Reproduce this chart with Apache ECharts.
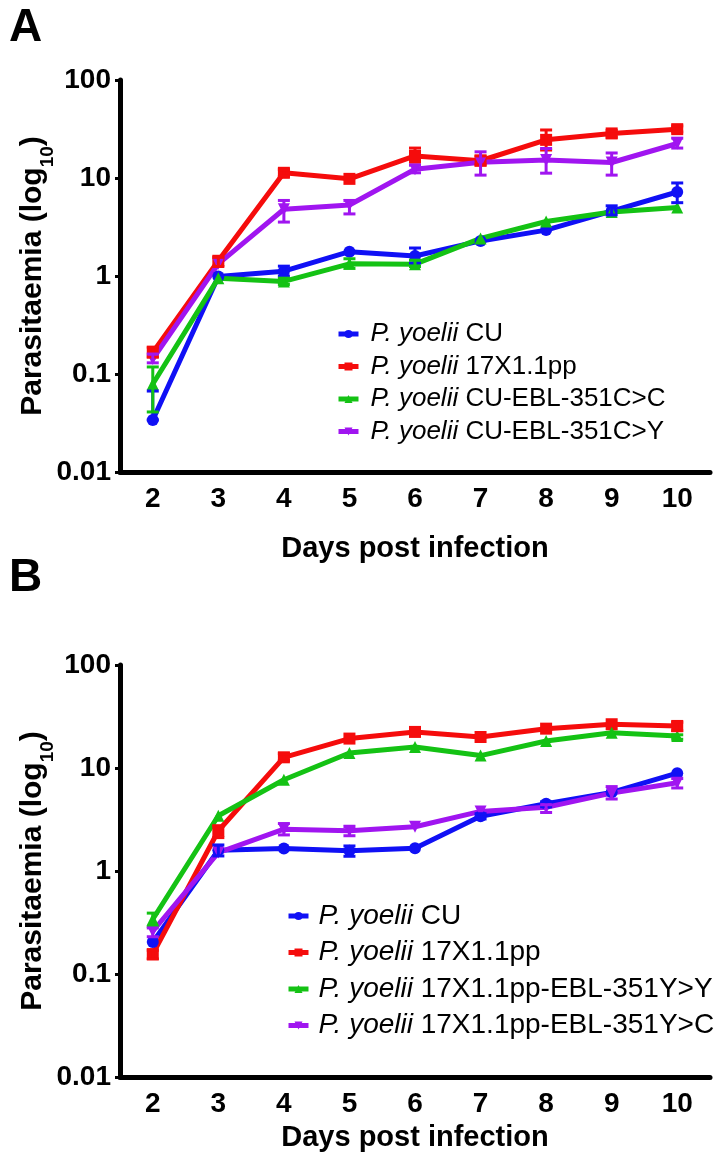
<!DOCTYPE html>
<html>
<head>
<meta charset="utf-8">
<script src="https://cdn.jsdelivr.net/npm/echarts@6/dist/echarts.min.js"></script>
<style>
html,body{margin:0;padding:0;background:#fff;}
#chart{width:720px;height:1165px;}
</style>
</head>
<body>
<div id="chart"></div>
<script>
// ---- data ----
const days = ['2', '3', '4', '5', '6', '7', '8', '9', '10'];
const yTicks = [0.01, 0.1, 1, 10, 100];

const namesA = ['CU', '17X1.1pp', 'CU-EBL-351C>C', 'CU-EBL-351C>Y'];
const namesB = ['CU', '17X1.1pp', '17X1.1pp-EBL-351Y>Y', '17X1.1pp-EBL-351Y>C'];

const aCU  = [0.034, 0.99, 1.12, 1.77, 1.6, 2.28, 2.94, 4.6, 7.2];
const a17X = [0.166, 1.43, 11.3, 9.8, 16.8, 15.0, 24.5, 28.5, 31.5];
const aCC  = [0.079, 0.95, 0.88, 1.33, 1.32, 2.42, 3.6, 4.5, 5.0];
const aCY  = [0.142, 1.33, 4.8, 5.3, 12.3, 14.5, 15.3, 14.4, 22.5];

const bCU  = [0.204, 1.59, 1.65, 1.57, 1.66, 3.4, 4.5, 5.8, 8.9];
const b17X = [0.156, 2.46, 12.7, 19.3, 22.4, 20.0, 24.1, 26.6, 25.6];
const bYY  = [0.34, 3.44, 7.7, 14.0, 16.0, 13.2, 18.3, 22.0, 20.5];
const bYC  = [0.26, 1.51, 2.55, 2.46, 2.69, 3.79, 4.15, 5.7, 7.2];

// error bars: [day, low, high]
const aCUerr  = [[2, 0.034, 0.067], [4, 1.0, 1.26], [6, 1.36, 1.93], [9, 4.2, 5.2], [10, 5.6, 8.9]];
const a17Xerr = [[2, 0.149, 0.188], [3, 1.25, 1.55], [4, 10.4, 12.2], [6, 14.6, 20.2], [7, 13.6, 16.8], [8, 19.3, 30.9], [9, 26, 30.5], [10, 29.5, 34]];
const aCCerr  = [[2, 0.041, 0.118], [4, 0.82, 0.95], [5, 1.2, 1.5], [6, 1.25, 1.45]];
const aCYerr  = [[2, 0.13, 0.16], [4, 3.55, 5.9], [5, 4.3, 5.9], [6, 11.3, 13.5], [7, 10.7, 18.5], [8, 11.2, 20], [9, 10.7, 18], [10, 20.2, 25.5]];

const bCUerr  = [[3, 1.40, 1.79], [5, 1.39, 1.75], [7, 3.2, 3.6], [8, 4.2, 4.7]];
const b17Xerr = [[2, 0.14, 0.17], [3, 2.11, 2.75], [4, 11.8, 13.8], [10, 23, 27.8]];
const bYYerr  = [[2, 0.29, 0.39], [10, 19, 21]];
const bYCerr  = [[2, 0.23, 0.28], [4, 2.24, 2.89], [5, 2.2, 2.7], [8, 3.7, 4.4], [9, 5.0, 6.6], [10, 6.4, 7.9]];

// ---- styles ----
const colors = ['#1010f5', '#f50c0c', '#14c214', '#a015f0'];
const symbols = ['circle', 'rect', 'triangle', 'triangle'];
const rotates = [0, 0, 0, 180];
const FONT = 'Liberation Sans, Arial, sans-serif';

const chart = echarts.init(document.getElementById('chart'), null, {renderer: 'canvas'});

function lineSeries(name, values, i, g) {
  return {
    type: 'line', name: name, xAxisIndex: g, yAxisIndex: g,
    data: values,
    symbol: symbols[i], symbolRotate: rotates[i], symbolSize: 12,
    showSymbol: true,
    lineStyle: {width: 5, color: colors[i]},
    itemStyle: {color: colors[i]},
    z: 3, animation: false
  };
}
function errSeries(errs, i, g) {
  return {
    type: 'custom', xAxisIndex: g, yAxisIndex: g, z: 4, animation: false, silent: true,
    data: errs.map(e => [days.indexOf(String(e[0])), e[1], e[2]]),
    encode: {x: 0, y: [1, 2]},
    renderItem: function (params, api) {
      const lo = api.coord([api.value(0), api.value(1)]);
      const hi = api.coord([api.value(0), api.value(2)]);
      const w = 6;
      const st = {stroke: colors[i], lineWidth: 3};
      return {type: 'group', children: [
        {type: 'line', shape: {x1: lo[0], y1: lo[1], x2: hi[0], y2: hi[1]}, style: st},
        {type: 'line', shape: {x1: hi[0] - w, y1: hi[1], x2: hi[0] + w, y2: hi[1]}, style: st},
        {type: 'line', shape: {x1: lo[0] - w, y1: lo[1], x2: lo[0] + w, y2: lo[1]}, style: st}
      ]};
    }
  };
}

function xAxisCfg(g) {
  return {
    type: 'category', gridIndex: g, data: days, boundaryGap: true,
    axisLine: {lineStyle: {color: '#000', width: 5}},
    axisTick: {alignWithLabel: true, length: 5, lineStyle: {color: '#000', width: 3}},
    axisLabel: {color: '#000', fontFamily: FONT, fontWeight: 'bold', fontSize: 28, margin: 13},
    splitLine: {show: false},
    name: 'Days post infection', nameLocation: 'middle', nameGap: g === 0 ? 62 : 46,
    nameTextStyle: {color: '#000', fontFamily: FONT, fontWeight: 'bold', fontSize: 29}
  };
}
function yAxisCfg(g) {
  return {
    type: 'log', logBase: 10, gridIndex: g, min: yTicks[0], max: yTicks[yTicks.length - 1],
    axisLine: {show: true, lineStyle: {color: '#000', width: 5}},
    axisTick: {show: true, length: 5, lineStyle: {color: '#000', width: 3}},
    axisLabel: {color: '#000', fontFamily: FONT, fontWeight: 'bold', fontSize: 28, margin: 9,
      formatter: v => String(+v.toPrecision(3))},
    splitLine: {show: false},
    name: '{a|Parasitaemia (log}{s|10}{a|)}', nameLocation: 'middle', nameRotate: 90, nameGap: 72,
    nameMoveOverlap: false,
    nameTextStyle: {color: '#000', fontFamily: FONT, fontWeight: 'bold', fontSize: 30,
      rich: {
        a: {fontFamily: FONT, fontWeight: 'bold', fontSize: 30, color: '#000'},
        s: {fontFamily: FONT, fontWeight: 'bold', fontSize: 19, color: '#000', verticalAlign: 'bottom', padding: [0, 0, -9, 0]}
      }}
  };
}
function legendCfg(names, g, left, top, size, lh, gap, pad) {
  return {
    orient: 'vertical', left: left, top: top, padding: 0, itemGap: gap,
    itemWidth: 20, itemHeight: 10,
    lineStyle: {width: 5},
    data: names.map((n, i) => ({name: (g === 0 ? 'A ' : 'B ') + n})),
    formatter: function (n) { return '{i|P. yoelii} {t|' + n.slice(2) + '}'; },
    textStyle: {color: '#000', fontFamily: FONT, fontSize: size, lineHeight: lh,
      rich: {
        i: {fontFamily: FONT, fontStyle: 'italic', fontSize: size, lineHeight: lh, color: '#000', padding: [0, 0, 0, pad]},
        t: {fontFamily: FONT, fontSize: size, lineHeight: lh, color: '#000'}
      }}
  };
}

const seriesA = [aCU, a17X, aCC, aCY];
const seriesB = [bCU, b17X, bYY, bYC];
const errA = [aCUerr, a17Xerr, aCCerr, aCYerr];
const errB = [bCUerr, b17Xerr, bYYerr, bYCerr];

const series = [];
seriesA.forEach((d, i) => series.push(lineSeries('A ' + namesA[i], d, i, 0)));
errA.forEach((e, i) => series.push(errSeries(e, i, 0)));
seriesB.forEach((d, i) => series.push(lineSeries('B ' + namesB[i], d, i, 1)));
errB.forEach((e, i) => series.push(errSeries(e, i, 1)));

chart.setOption({
  backgroundColor: '#fff',
  animation: false,
  title: [
    {text: 'A', left: 4, top: 0, textStyle: {fontFamily: FONT, fontWeight: 'bold', fontSize: 46, color: '#000'}},
    {text: 'B', left: 4, top: 550, textStyle: {fontFamily: FONT, fontWeight: 'bold', fontSize: 46, color: '#000'}}
  ],
  grid: [
    {left: 120, width: 590, top: 80, height: 392},
    {left: 120, width: 590, top: 665, height: 412}
  ],
  xAxis: [xAxisCfg(0), xAxisCfg(1)],
  yAxis: [yAxisCfg(0), yAxisCfg(1)],
  legend: [
    legendCfg(namesA, 0, 336, 319, 26, 30, 2.5, 7),
    legendCfg(namesB, 1, 286, 900, 28, 32, 4.5, 5)
  ],
  series: series
});
</script>
</body>
</html>
